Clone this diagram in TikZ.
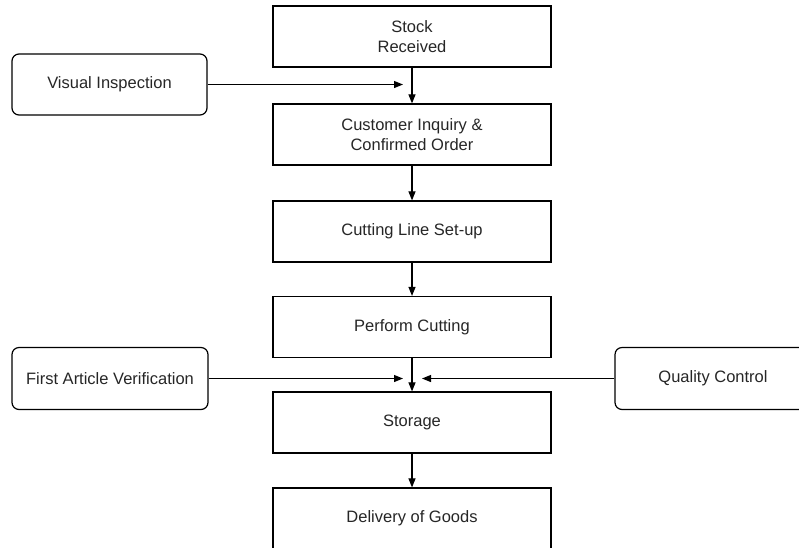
\documentclass[tikz,border=0pt]{standalone}
\usepackage{fontspec}
\setmainfont{Liberation Sans}
\usetikzlibrary{arrows.meta}
\begin{document}
\begin{tikzpicture}[x=1pt,y=-1pt,
  every node/.style={font=\fontsize{16.5}{19.5}\selectfont, text=black!85, align=center, inner sep=0pt},
  mainbox/.style={draw, line width=1.2pt, minimum width=278pt, minimum height=61pt},
  sidebox/.style={draw, line width=1.2pt, rounded corners=7pt, minimum width=196pt, minimum height=62pt},
  flow/.style={line width=1.1pt, -{Triangle[length=9pt,width=7pt]}}]
\useasboundingbox (0,0) rectangle (799,547);
\node[mainbox] (stock) at (412,36.5) {Stock\\Received};
\node[mainbox] (cust) at (412,134.5) {Customer Inquiry \&\\Confirmed Order};
\node[mainbox] (cut) at (412,231.5) {Cutting Line Set-up};
\node[mainbox] (perf) at (412,327) {Perform Cutting};
\node[mainbox] (stor) at (412,422.5) {Storage};
\node[mainbox] (deliv) at (412,518.5) {Delivery of Goods};
\node[sidebox, minimum width=195pt, minimum height=61pt] (vi) at (109.5,84.5) {Visual Inspection};
\node[sidebox] (fav) at (110,378.5) {First Article Verification};
\node[sidebox] (qc) at (713,378.5) {Quality Control};
\coordinate (viin) at (403,84.5);
\coordinate (favin) at (403,378.5);
\coordinate (qcin) at (422,378.5);
\draw[flow] (stock) -- (cust);
\draw[flow] (cust) -- (cut);
\draw[flow] (cut) -- (perf);
\draw[flow] (perf) -- (stor);
\draw[flow] (stor) -- (deliv);
\draw[flow] (vi) -- (viin);
\draw[flow] (fav) -- (favin);
\draw[flow] (qc) -- (qcin);
\end{tikzpicture}
\end{document}
